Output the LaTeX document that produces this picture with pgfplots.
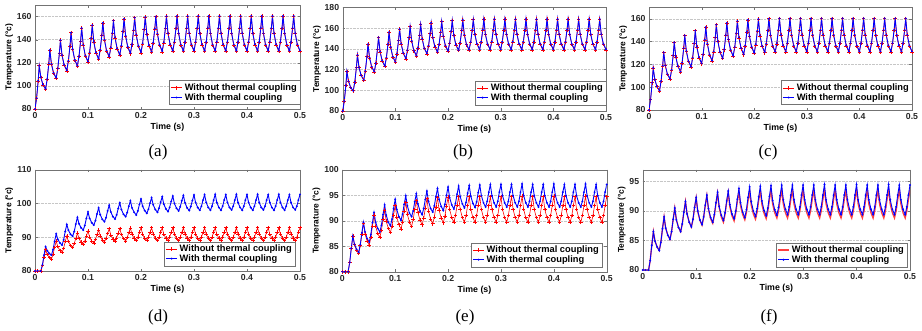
\documentclass[border=0pt]{standalone}
\usepackage{fontspec}
\setmainfont{Liberation Sans}
\newfontfamily\capfont{Liberation Serif}
\usepackage{pgfplots}
\usepackage{pgfplotstable}
\pgfplotsset{compat=1.18}

\pgfplotstableread{
t a1 a2 b1 b2 c1 c2
0.000 80 80 80 80 80 80
0.003 89.4 89.4 89.5 89.5 89.2 89.2
0.006 104.4 104.4 104.7 104.7 103.9 103.9
0.008 117.5 117.5 118.0 118.0 116.8 116.8
0.011 107.3 107.5 108.8 108.8 106.8 106.9
0.015 100.7 101.1 102.8 102.8 100.4 100.6
0.020 97.0 97.5 99.5 99.5 96.8 97.0
0.023 105.5 105.9 108.1 108.1 105.2 105.4
0.026 119.1 119.3 121.9 121.9 118.7 118.8
0.028 131.0 131.0 134.0 134.0 130.5 130.5
0.031 118.8 119.0 121.9 122.0 118.8 118.9
0.035 110.9 111.3 114.2 114.3 111.2 111.5
0.040 106.5 107.0 109.8 110.0 107.0 107.3
0.043 114.8 115.1 118.5 118.6 115.1 115.3
0.046 128.0 128.1 132.4 132.4 127.9 128.0
0.048 139.5 139.5 144.5 144.5 139.2 139.2
0.051 126.3 126.5 131.1 131.3 126.3 126.5
0.055 117.8 118.2 122.5 122.8 118.0 118.3
0.060 113.0 113.5 117.7 118.0 113.3 113.7
0.063 121.3 121.6 126.0 126.3 121.3 121.6
0.066 134.5 134.6 139.3 139.5 134.1 134.2
0.068 146.0 146.0 151.0 151.0 145.3 145.3
0.071 131.5 131.8 137.0 137.3 131.4 131.7
0.075 122.2 122.6 128.0 128.5 122.5 122.9
0.080 117.0 117.5 123.0 123.5 117.5 118.0
0.083 125.3 125.6 131.3 131.6 125.5 125.9
0.086 138.5 138.6 144.5 144.6 138.3 138.5
0.088 150.0 150.0 156.0 156.0 149.5 149.5
0.091 135.3 135.5 141.5 141.8 135.0 135.3
0.095 125.8 126.2 132.2 132.6 125.7 126.1
0.100 120.5 121.0 127.0 127.5 120.5 121.0
0.103 128.5 128.9 135.0 135.4 128.6 128.9
0.106 141.3 141.5 147.8 148.0 141.4 141.6
0.108 152.5 152.5 159.0 159.0 152.7 152.7
0.111 137.8 138.0 144.7 144.9 137.8 138.0
0.115 128.3 128.7 135.5 135.9 128.2 128.6
0.120 123.0 123.5 130.3 130.8 122.8 123.3
0.123 130.9 131.3 138.1 138.5 130.8 131.2
0.126 143.5 143.7 150.6 150.8 143.5 143.7
0.128 154.5 154.5 161.5 161.5 154.7 154.7
0.131 139.7 140.0 147.3 147.5 139.9 140.1
0.135 130.1 130.7 138.1 138.5 130.3 130.8
0.140 124.8 125.5 133.0 133.5 125.0 125.5
0.143 132.7 133.3 140.6 141.0 132.8 133.2
0.146 145.4 145.7 152.8 153.0 145.3 145.5
0.148 156.5 156.5 163.5 163.5 156.3 156.3
0.151 141.4 141.8 149.3 149.5 141.6 141.9
0.155 131.7 132.3 140.1 140.5 132.2 132.7
0.160 126.3 127.0 135.0 135.5 126.9 127.5
0.163 134.2 134.8 142.5 142.9 134.7 135.1
0.166 146.9 147.2 154.5 154.7 147.1 147.3
0.168 158.0 158.0 165.0 165.0 158.0 158.0
0.171 142.9 143.3 150.8 151.0 143.2 143.5
0.175 133.2 133.8 141.6 142.0 133.7 134.2
0.180 127.8 128.5 136.5 137.0 128.4 129.0
0.183 135.6 136.1 144.0 144.3 136.1 136.5
0.186 148.1 148.3 155.9 156.0 148.3 148.5
0.188 159.0 159.0 166.3 166.3 159.0 159.0
0.191 143.8 144.2 151.9 152.2 144.3 144.6
0.195 134.1 134.6 142.7 143.1 134.9 135.4
0.200 128.6 129.3 137.5 138.0 129.6 130.2
0.203 136.3 136.9 144.9 145.3 137.1 137.6
0.206 148.7 148.9 156.8 157.0 149.1 149.3
0.208 159.5 159.5 167.2 167.2 159.6 159.6
0.211 144.3 144.7 152.7 153.0 144.9 145.2
0.215 134.6 135.1 143.4 143.8 135.5 136.0
0.220 129.1 129.8 138.2 138.7 130.2 130.8
0.223 136.8 137.4 145.6 146.0 137.7 138.1
0.226 149.2 149.4 157.4 157.6 149.6 149.8
0.228 160.0 160.0 167.8 167.8 160.0 160.0
0.231 144.8 145.1 153.3 153.5 145.3 145.6
0.235 135.0 135.6 143.9 144.3 135.9 136.4
0.240 129.5 130.2 138.7 139.2 130.6 131.2
0.243 137.2 137.7 146.1 146.5 138.0 138.5
0.246 149.5 149.8 157.9 158.1 149.8 150.1
0.248 160.3 160.3 168.2 168.2 160.2 160.2
0.251 145.1 145.4 153.6 153.9 145.5 145.8
0.255 135.3 135.9 144.3 144.7 136.1 136.6
0.260 129.8 130.5 139.0 139.5 130.8 131.4
0.263 137.5 138.0 146.4 146.8 138.2 138.6
0.266 149.8 150.0 158.2 158.4 149.9 150.1
0.268 160.5 160.5 168.5 168.5 160.2 160.2
0.271 145.2 145.5 153.8 154.0 145.5 145.8
0.275 135.3 135.9 144.3 144.7 136.1 136.6
0.280 129.8 130.5 139.0 139.5 130.8 131.4
0.283 137.5 138.0 146.4 146.8 138.2 138.6
0.286 149.8 150.0 158.2 158.4 149.9 150.1
0.288 160.4 160.4 168.6 168.6 160.3 160.3
0.291 145.2 145.5 153.8 154.0 145.5 145.8
0.295 135.3 135.9 144.3 144.7 136.1 136.6
0.300 129.8 130.5 139.0 139.5 130.8 131.4
0.303 137.5 138.0 146.4 146.8 138.2 138.6
0.306 149.8 150.0 158.2 158.4 149.9 150.1
0.308 160.5 160.5 168.5 168.5 160.2 160.2
0.311 145.2 145.5 153.8 154.0 145.5 145.8
0.315 135.3 135.9 144.3 144.7 136.1 136.6
0.320 129.8 130.5 139.0 139.5 130.8 131.4
0.323 137.5 138.0 146.4 146.8 138.2 138.6
0.326 149.8 150.0 158.2 158.4 149.9 150.1
0.328 160.6 160.6 168.5 168.5 160.3 160.3
0.331 145.2 145.5 153.8 154.0 145.5 145.8
0.335 135.3 135.9 144.3 144.7 136.1 136.6
0.340 129.8 130.5 139.0 139.5 130.8 131.4
0.343 137.5 138.0 146.4 146.8 138.2 138.6
0.346 149.8 150.0 158.2 158.4 149.9 150.1
0.348 160.5 160.5 168.6 168.6 160.2 160.2
0.351 145.2 145.5 153.8 154.0 145.5 145.8
0.355 135.3 135.9 144.3 144.7 136.1 136.6
0.360 129.8 130.5 139.0 139.5 130.8 131.4
0.363 137.5 138.0 146.4 146.8 138.2 138.6
0.366 149.8 150.0 158.2 158.4 149.9 150.1
0.368 160.5 160.5 168.5 168.5 160.3 160.3
0.371 145.2 145.5 153.8 154.0 145.5 145.8
0.375 135.3 135.9 144.3 144.7 136.1 136.6
0.380 129.8 130.5 139.0 139.5 130.8 131.4
0.383 137.5 138.0 146.4 146.8 138.2 138.6
0.386 149.8 150.0 158.2 158.4 149.9 150.1
0.388 160.5 160.5 168.5 168.5 160.2 160.2
0.391 145.2 145.5 153.8 154.0 145.5 145.8
0.395 135.3 135.9 144.3 144.7 136.1 136.6
0.400 129.8 130.5 139.0 139.5 130.8 131.4
0.403 137.5 138.0 146.4 146.8 138.2 138.6
0.406 149.8 150.0 158.2 158.4 149.9 150.1
0.408 160.6 160.6 168.6 168.6 160.3 160.3
0.411 145.2 145.5 153.8 154.0 145.5 145.8
0.415 135.3 135.9 144.3 144.7 136.1 136.6
0.420 129.8 130.5 139.0 139.5 130.8 131.4
0.423 137.5 138.0 146.4 146.8 138.2 138.6
0.426 149.8 150.0 158.2 158.4 149.9 150.1
0.428 160.5 160.5 168.5 168.5 160.2 160.2
0.431 145.2 145.5 153.8 154.0 145.5 145.8
0.435 135.3 135.9 144.3 144.7 136.1 136.6
0.440 129.8 130.5 139.0 139.5 130.8 131.4
0.443 137.5 138.0 146.4 146.8 138.2 138.6
0.446 149.8 150.0 158.2 158.4 149.9 150.1
0.448 160.5 160.5 168.5 168.5 160.3 160.3
0.451 145.2 145.5 153.8 154.0 145.5 145.8
0.455 135.3 135.9 144.3 144.7 136.1 136.6
0.460 129.8 130.5 139.0 139.5 130.8 131.4
0.463 137.5 138.0 146.4 146.8 138.2 138.6
0.466 149.8 150.0 158.2 158.4 149.9 150.1
0.468 160.5 160.5 168.6 168.6 160.2 160.2
0.471 145.2 145.5 153.8 154.0 145.5 145.8
0.475 135.3 135.9 144.3 144.7 136.1 136.6
0.480 129.8 130.5 139.0 139.5 130.8 131.4
0.483 137.5 138.0 146.4 146.8 138.2 138.6
0.486 149.8 150.0 158.2 158.4 149.9 150.1
0.488 160.5 160.5 168.5 168.5 160.2 160.2
0.491 145.2 145.5 153.8 154.0 145.5 145.8
0.495 135.3 135.9 144.3 144.7 136.1 136.6
0.500 129.8 130.5 139.0 139.5 130.8 131.4
}\toptab

\pgfplotstableread{
t d1 d2 e1 e2 f1 f2
0.000 80 80 80 80 80 80
0.005 80 80 80 80 80 80
0.011 80 80 80 80 80 80
0.014 81.6 81.8 81.8 81.8 81.6 81.6
0.017 84.1 84.7 84.6 84.6 84.2 84.2
0.020 86.3 87.2 87.0 87.0 86.5 86.5
0.023 84.9 86.0 85.3 85.4 84.9 84.9
0.027 84.0 85.2 84.2 84.4 83.9 83.9
0.031 83.5 84.7 83.6 83.8 83.3 83.3
0.034 84.9 86.3 85.1 85.3 84.7 84.7
0.037 87.0 88.8 87.4 87.6 87.0 87.0
0.040 88.9 91.0 89.5 89.7 89.0 89.0
0.043 87.2 89.4 87.4 87.8 87.1 87.1
0.047 86.1 88.3 86.0 86.5 85.9 85.9
0.051 85.5 87.7 85.2 85.8 85.2 85.2
0.054 86.7 89.2 86.7 87.3 86.5 86.5
0.057 88.7 91.7 89.0 89.6 88.6 88.6
0.060 90.4 93.8 91.1 91.6 90.5 90.5
0.063 88.7 92.1 88.9 89.7 88.5 88.5
0.067 87.6 90.9 87.5 88.5 87.2 87.2
0.071 87.0 90.3 86.7 87.8 86.5 86.5
0.074 88.1 91.7 88.1 89.1 87.8 87.8
0.077 89.7 93.9 90.2 91.2 89.8 89.8
0.080 91.2 95.9 92.1 93.1 91.6 91.6
0.083 89.6 94.0 89.9 91.1 89.5 89.5
0.087 88.5 92.8 88.5 89.7 88.1 88.1
0.091 87.9 92.1 87.7 89.0 87.3 87.3
0.094 88.9 93.5 89.0 90.3 88.5 88.6
0.097 90.4 95.6 91.1 92.4 90.5 90.6
0.100 91.8 97.5 93.0 94.2 92.2 92.3
0.103 90.1 95.6 90.7 92.2 89.9 90.0
0.107 88.9 94.3 89.2 90.8 88.4 88.5
0.111 88.3 93.6 88.4 90.1 87.6 87.7
0.114 89.3 94.9 89.7 91.3 88.9 89.0
0.117 90.8 96.9 91.8 93.2 90.9 91.0
0.120 92.2 98.7 93.6 94.9 92.6 92.7
0.123 90.4 96.7 91.3 92.9 90.3 90.4
0.127 89.2 95.3 89.7 91.5 88.7 88.9
0.131 88.6 94.6 88.9 90.8 87.9 88.1
0.134 89.6 95.8 90.2 91.9 89.2 89.4
0.137 91.1 97.8 92.2 93.7 91.2 91.4
0.140 92.5 99.5 94.0 95.3 93.0 93.2
0.143 90.7 97.5 91.6 93.3 90.6 90.8
0.147 89.5 96.1 90.1 91.9 89.0 89.3
0.151 88.8 95.4 89.2 91.2 88.1 88.4
0.154 89.8 96.6 90.5 92.4 89.4 89.7
0.157 91.3 98.5 92.5 94.2 91.4 91.7
0.160 92.6 100.2 94.3 95.8 93.1 93.4
0.163 90.8 98.2 91.9 93.8 90.7 91.1
0.167 89.6 96.8 90.3 92.4 89.2 89.5
0.171 88.9 96.1 89.4 91.7 88.3 88.7
0.174 89.9 97.3 90.7 92.9 89.6 90.0
0.177 91.4 99.2 92.7 94.7 91.6 92.0
0.180 92.7 100.8 94.5 96.3 93.3 93.8
0.183 90.9 98.7 92.1 94.2 90.9 91.4
0.187 89.7 97.4 90.5 92.8 89.4 89.8
0.191 89.0 96.6 89.6 92.0 88.5 88.9
0.194 90.0 97.8 90.9 93.2 89.7 90.2
0.197 91.5 99.7 92.9 95.0 91.7 92.3
0.200 92.8 101.3 94.6 96.6 93.4 94.1
0.203 90.9 99.2 92.2 94.5 91.0 91.6
0.207 89.7 97.9 90.6 93.1 89.5 90.0
0.211 89.0 97.1 89.7 92.3 88.6 89.1
0.214 90.0 98.3 91.0 93.4 89.8 90.4
0.217 91.5 100.1 93.0 95.2 91.8 92.4
0.220 92.8 101.7 94.7 96.8 93.5 94.2
0.223 90.9 99.6 92.2 94.7 91.1 91.7
0.227 89.7 98.2 90.6 93.3 89.6 90.1
0.231 89.0 97.4 89.7 92.5 88.7 89.2
0.234 90.0 98.6 91.0 93.6 89.9 90.5
0.237 91.5 100.4 93.0 95.4 91.9 92.5
0.240 92.8 102.0 94.7 96.9 93.6 94.3
0.243 90.9 99.8 92.2 94.8 91.2 91.8
0.247 89.7 98.4 90.6 93.4 89.7 90.2
0.251 89.0 97.6 89.7 92.6 88.8 89.3
0.254 90.0 98.8 91.0 93.7 90.0 90.6
0.257 91.5 100.6 93.0 95.5 91.9 92.6
0.260 92.8 102.2 94.7 97.0 93.6 94.4
0.263 90.9 100.0 92.2 94.9 91.2 91.9
0.267 89.7 98.6 90.6 93.5 89.7 90.3
0.271 89.0 97.8 89.7 92.7 88.8 89.4
0.274 90.0 99.0 91.0 93.8 90.0 90.7
0.277 91.5 100.8 93.0 95.6 91.9 92.7
0.280 92.8 102.4 94.7 97.1 93.6 94.4
0.283 90.9 100.2 92.2 94.9 91.2 91.9
0.287 89.7 98.7 90.6 93.5 89.7 90.3
0.291 89.0 97.9 89.7 92.7 88.8 89.4
0.294 90.0 99.1 91.0 93.8 90.0 90.7
0.297 91.5 100.9 93.0 95.6 91.9 92.7
0.300 92.8 102.5 94.7 97.1 93.6 94.4
0.303 90.9 100.3 92.2 94.9 91.2 91.9
0.307 89.7 98.8 90.6 93.5 89.7 90.3
0.311 89.0 98.0 89.7 92.7 88.8 89.4
0.314 90.0 99.2 91.0 93.8 90.0 90.7
0.317 91.5 101.0 93.0 95.6 91.9 92.7
0.320 92.8 102.6 94.7 97.1 93.6 94.4
0.323 90.9 100.3 92.2 94.9 91.2 91.9
0.327 89.7 98.8 90.6 93.5 89.7 90.3
0.331 89.0 98.0 89.7 92.7 88.8 89.4
0.334 90.0 99.2 91.0 93.8 90.0 90.7
0.337 91.5 101.0 93.0 95.6 91.9 92.7
0.340 92.8 102.7 94.8 97.2 93.7 94.5
0.343 90.9 100.3 92.2 94.9 91.2 91.9
0.347 89.7 98.8 90.6 93.5 89.7 90.3
0.351 89.0 98.0 89.7 92.7 88.8 89.4
0.354 90.0 99.2 91.0 93.8 90.0 90.7
0.357 91.5 101.0 93.0 95.6 91.9 92.7
0.360 92.8 102.6 94.7 97.1 93.6 94.4
0.363 90.9 100.3 92.2 94.9 91.2 91.9
0.367 89.7 98.8 90.6 93.5 89.7 90.3
0.371 89.0 98.1 89.7 92.7 88.8 89.4
0.374 90.0 99.2 91.0 93.8 90.0 90.7
0.377 91.5 101.0 93.0 95.6 91.9 92.7
0.380 92.8 102.7 94.7 97.1 93.6 94.4
0.383 90.9 100.3 92.2 94.9 91.2 91.9
0.387 89.7 98.8 90.6 93.5 89.7 90.3
0.391 89.0 98.0 89.7 92.7 88.8 89.4
0.394 90.0 99.2 91.0 93.8 90.0 90.7
0.397 91.5 101.0 93.0 95.6 91.9 92.7
0.400 92.8 102.6 94.8 97.2 93.7 94.5
0.403 90.9 100.3 92.2 94.9 91.2 91.9
0.407 89.7 98.8 90.6 93.5 89.7 90.3
0.411 89.0 98.0 89.7 92.7 88.8 89.4
0.414 90.0 99.2 91.0 93.8 90.0 90.7
0.417 91.5 101.0 93.0 95.6 91.9 92.7
0.420 92.8 102.7 94.7 97.1 93.6 94.4
0.423 90.9 100.3 92.2 94.9 91.2 91.9
0.427 89.7 98.8 90.6 93.5 89.7 90.3
0.431 89.0 98.1 89.7 92.7 88.8 89.4
0.434 90.0 99.2 91.0 93.8 90.0 90.7
0.437 91.5 101.0 93.0 95.6 91.9 92.7
0.440 92.8 102.6 94.7 97.1 93.6 94.4
0.443 90.9 100.3 92.2 94.9 91.2 91.9
0.447 89.7 98.8 90.6 93.5 89.7 90.3
0.451 89.0 98.0 89.7 92.7 88.8 89.4
0.454 90.0 99.2 91.0 93.8 90.0 90.7
0.457 91.5 101.0 93.0 95.6 91.9 92.7
0.460 92.8 102.7 94.8 97.2 93.7 94.5
0.463 90.9 100.3 92.2 94.9 91.2 91.9
0.467 89.7 98.8 90.6 93.5 89.7 90.3
0.471 89.0 98.0 89.7 92.7 88.8 89.4
0.474 90.0 99.2 91.0 93.8 90.0 90.7
0.477 91.5 101.0 93.0 95.6 91.9 92.7
0.480 92.8 102.6 94.7 97.1 93.6 94.4
0.483 90.9 100.3 92.2 94.9 91.2 91.9
0.487 89.7 98.8 90.6 93.5 89.7 90.3
0.491 89.0 98.1 89.7 92.7 88.8 89.4
0.494 90.0 99.2 91.0 93.8 90.0 90.7
0.497 91.5 101.0 93.0 95.6 91.9 92.7
0.500 92.8 102.7 94.7 97.1 93.6 94.4
}\bottab

\pgfplotsset{
  panel/.style={
    scale only axis, anchor=south west,
    xmin=0, xmax=0.5,
    xtick={0,0.1,0.2,0.3,0.4,0.5},
    xticklabels={0,0.1,0.2,0.3,0.4,0.5},
    /pgf/number format/assume math mode=true,
    tick label style={font=\bfseries\fontsize{8.7}{10}\selectfont, black!85},
    xlabel={Time (s)},
    ylabel={Temperature (°c)},
    xlabel style={font=\bfseries\fontsize{8.8}{10}\selectfont, yshift=2pt},
    ylabel style={font=\bfseries\fontsize{8.4}{9}\selectfont, yshift=-3pt},
    axis line style={black!55},
    major tick style={black!55},
    major tick length=2.5pt,
    tick align=inside,
    ymajorgrids,
    grid style={densely dotted, gray!45},
    legend cell align=left,
    legend image code/.code={\draw[mark repeat=2,mark phase=2,##1] plot coordinates {(0cm,0cm) (0.2cm,0cm) (0.4cm,0cm)};},
    legend style={font=\bfseries\fontsize{9.3}{10.5}\selectfont, draw=black!55,
      inner sep=1pt, row sep=-2.5pt, anchor=south east},
  },
  redc/.style={red, line width=0.6pt, mark=+, mark size=1.8pt},
  bluec/.style={blue, line width=0.9pt, mark=*, mark size=0.45pt},
}

\begin{document}
\begin{tikzpicture}
\path[use as bounding box] (0pt,0pt) rectangle (922pt,330pt);

% (a)
\begin{axis}[panel, at={(35pt,221pt)}, width=265pt, height=104pt,
  ymin=80, ymax=170, ytick={80,100,120,140,160},
  legend style={at={(1,0.04)}}]
\addplot[redc] table[x=t, y=a1] {\toptab};
\addplot[bluec] table[x=t, y=a2] {\toptab};
\legend{Without thermal coupling, With thermal coupling}
\end{axis}

% (b)
\begin{axis}[panel, at={(342.7pt,219pt)}, width=263.3pt, height=103.7pt,
  ymin=80, ymax=180, ytick={80,100,120,140,160,180},
  legend style={at={(1,0.058)}}]
\addplot[redc] table[x=t, y=b1] {\toptab};
\addplot[bluec] table[x=t, y=b2] {\toptab};
\legend{Without thermal coupling, With thermal coupling}
\end{axis}

% (c)
\begin{axis}[panel, at={(649pt,220pt)}, width=263pt, height=102.7pt,
  ymin=80, ymax=170, ytick={80,100,120,140,160},
  legend style={at={(1,0.05)}}]
\addplot[redc] table[x=t, y=c1] {\toptab};
\addplot[bluec] table[x=t, y=c2] {\toptab};
\legend{Without thermal coupling, With thermal coupling}
\end{axis}

% (d)
\begin{axis}[panel, at={(35pt,59pt)}, width=265pt, height=101.3pt,
  ymin=80, ymax=110, ytick={80,90,100,110},
  legend style={at={(0.981,0.05)}}]
\addplot[redc] table[x=t, y=d1] {\bottab};
\addplot[bluec] table[x=t, y=d2] {\bottab};
\legend{Without thermal coupling, With thermal coupling}
\end{axis}

% (e)
\begin{axis}[panel, at={(342.3pt,58.3pt)}, width=264.4pt, height=102pt,
  ymin=80, ymax=100, ytick={80,85,90,95,100},
  legend style={at={(0.982,0.046)}}]
\addplot[redc] table[x=t, y=e1] {\bottab};
\addplot[bluec] table[x=t, y=e2] {\bottab};
\legend{Without thermal coupling, With thermal coupling}
\end{axis}

% (f)
\begin{axis}[panel, at={(642.7pt,60pt)}, width=267.3pt, height=100.3pt,
  ymin=80, ymax=97, ytick={80,85,90,95},
  legend style={at={(0.989,0.03)}}]
\addplot[red!75, line width=1.3pt] table[x=t, y=f1] {\bottab};
\addplot[bluec] table[x=t, y=f2] {\bottab};
\legend{Without thermal coupling, With thermal coupling}
\end{axis}

\node[font=\capfont\fontsize{17}{18}\selectfont] at (158pt,178pt) {(a)};
\node[font=\capfont\fontsize{17}{18}\selectfont] at (463pt,178pt) {(b)};
\node[font=\capfont\fontsize{17}{18}\selectfont] at (768pt,178pt) {(c)};
\node[font=\capfont\fontsize{17}{18}\selectfont] at (158pt,13pt) {(d)};
\node[font=\capfont\fontsize{17}{18}\selectfont] at (465pt,13pt) {(e)};
\node[font=\capfont\fontsize{17}{18}\selectfont] at (769pt,13pt) {(f)};
\end{tikzpicture}
\end{document}
